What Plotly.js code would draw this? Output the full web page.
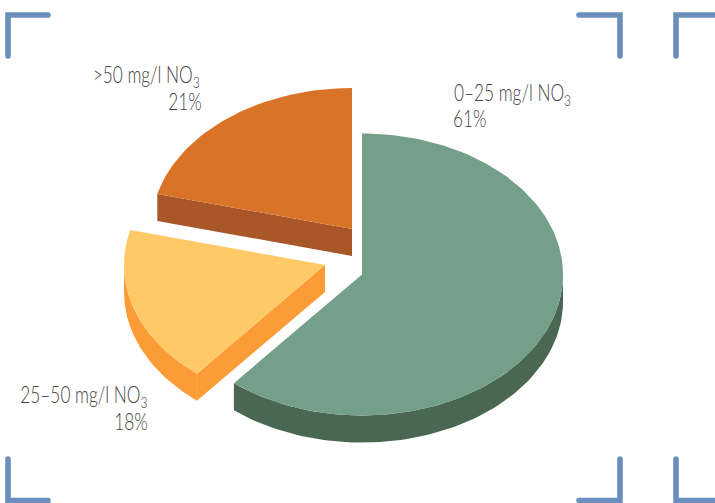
<!DOCTYPE html>
<html><head><meta charset="utf-8">
<script src="https://cdn.plot.ly/plotly-3.0.1.min.js"></script>
<style>html,body{margin:0;padding:0;background:#fff}#c{width:715px;height:503px}
.shapelayer path{stroke-linecap:round;stroke-linejoin:miter}</style>
</head><body><div id="c"></div><script>
const categories = ['0–25 mg/l NO<sub>3</sub>', '25–50 mg/l NO<sub>3</sub>', '>50 mg/l NO<sub>3</sub>'];
const shares = [61, 18, 21];
const percentLabels = ['61%', '18%', '21%'];

// Drawing settings (3D pie projection)
const topColors = ['#749f89', '#fec966', '#d97327'];
const sideColors = ['#4a6752', '#fb9c36', '#a95628'];
const apexes = [[362, 274.5], [325, 265], [352, 229]];
const RX = 201, RY = 141, DEPTH = 27;
const total = shares.reduce((a, b) => a + b, 0);

const pt = (i, deg, dz) => {
  const r = deg * Math.PI / 180;
  return [apexes[i][0] + RX * Math.sin(r), apexes[i][1] - RY * Math.cos(r) + (dz || 0)];
};
const arc = (i, a, b, dz) => {
  const out = [], n = Math.max(2, Math.ceil(Math.abs(b - a) / 1.5));
  for (let k = 0; k <= n; k++) out.push(pt(i, a + (b - a) * k / n, dz));
  return out;
};
const poly = (pts, color) => ({
  type: 'scatter', mode: 'lines', x: pts.map(p => p[0]), y: pts.map(p => p[1]),
  fill: 'toself', fillcolor: color, line: {width: 0, color: color}, hoverinfo: 'skip', showlegend: false
});

const traces = [], tops = [];
let start = 0;
shares.forEach((v, i) => {
  const end = start + v / total * 360;
  const a = Math.max(start, 90), b = Math.min(end, 270);
  if (b > a) traces.push(poly(arc(i, a, b, 0).concat(arc(i, b, a, DEPTH)), sideColors[i]));
  const ap = apexes[i];
  const wall = (deg) => {
    const p = pt(i, deg, 0);
    traces.push(poly([ap, p, [p[0], p[1] + DEPTH], [ap[0], ap[1] + DEPTH]], sideColors[i]));
  };
  if (i === 1 || i === 2) wall(start);
  tops.push(poly([ap].concat(arc(i, start, end, 0)), topColors[i]));
  start = end;
});

const bracket = (d) => ({type: 'path', path: d, line: {color: '#6c8ebc', width: 5.6}, layer: 'above'});
const shapes = [
  'M8,56 L8,15 L48,15', 'M579,15 L620,15 L620,56', 'M676,56 L676,15 L722,15',
  'M8,459 L8,500.5 L48,500.5', 'M579,500.5 L620,500.5 L620,459', 'M676,459 L676,500.5 L722,500.5'
].map(bracket);

const font = {family: 'Lato, sans-serif', size: 23, color: '#444444', weight: 300};
const note = (text, x, y, anchor) => ({text, x, y, xref: 'x', yref: 'y', xanchor: anchor, yanchor: 'middle',
  showarrow: false, align: anchor, font});
const annotations = [
  note(categories[0], 452, 93.5, 'left'), note(percentLabels[0], 451, 117.5, 'left'),
  note(categories[1], 149, 395, 'right'), note(percentLabels[1], 150, 420.5, 'right'),
  note(categories[2], 202, 75.5, 'right'), note(percentLabels[2], 204, 100.5, 'right')
];

Plotly.newPlot('c', traces.concat(tops), {
  width: 715, height: 503, margin: {l: 0, r: 0, t: 0, b: 0},
  paper_bgcolor: '#fff', plot_bgcolor: '#fff', showlegend: false,
  xaxis: {range: [0, 715], visible: false, fixedrange: true},
  yaxis: {range: [503, 0], visible: false, fixedrange: true},
  shapes, annotations
}, {displayModeBar: false, staticPlot: true}).then(() => {
  // the reference lettering is condensed: narrow the glyphs of each label
  document.querySelectorAll('.annotation-text').forEach(t => {
    t.setAttribute('lengthAdjust', 'spacingAndGlyphs');
    t.setAttribute('textLength', t.getComputedTextLength() * 0.75);
  });
});
</script></body></html>
